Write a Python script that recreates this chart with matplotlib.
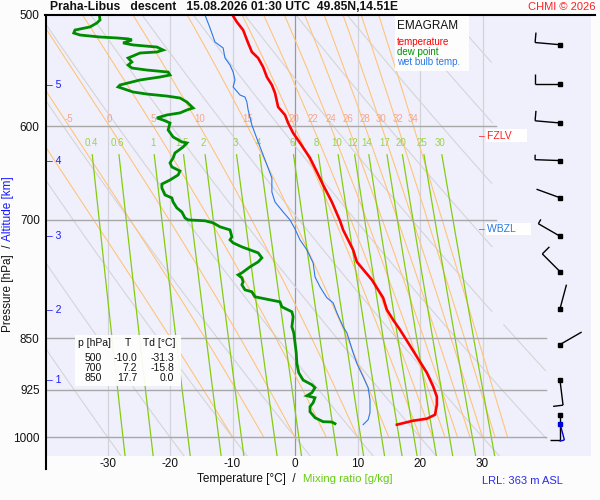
import numpy as np
import matplotlib
matplotlib.use("Agg")
import matplotlib.pyplot as plt
from matplotlib.patches import Rectangle
from matplotlib.lines import Line2D
import matplotlib.transforms as mtransforms

plt.rcParams['font.family'] = ['Liberation Sans', 'DejaVu Sans']

# ---------------- data ----------------
temp_p = [500, 505.8, 512.5, 523.5, 531.3, 536.6, 544.6, 553.6, 560.9, 568.3, 581.5, 589.2, 597,
          606.9, 616.9, 632.3, 647, 661, 679.7, 701, 711.6, 735.3, 750, 772.4, 795.5, 811.4, 824.8,
          838.4, 856.4, 876.4, 899.7, 920, 935.9, 948.2, 963.9, 970.2, 973.4, 979.8]
temp_t = [-10.0, -9.3, -8.3, -7.5, -6.9, -5.9, -5.1, -4.5, -3.7, -3.2, -2.7, -1.6, -1.1,
          -0.3, 0.8, 2.4, 3.5, 4.5, 5.9, 7.2, 7.7, 9.3, 9.9, 12.3, 14.1, 14.7, 15.7,
          16.8, 18.1, 19.5, 21.1, 22.1, 22.7, 22.7, 22.4, 21.1, 18.9, 16.3]

dew_p = [500, 504.1, 506.6, 509.9, 512.5, 515, 516.7, 518.4, 519.2, 520, 520.9, 523.5, 525.2, 527,
         529.6, 531.3, 532.2, 536.6, 540.1, 542.8, 545.5, 547.3, 549.1, 551.8, 553.6, 556.3, 560.9,
         562.7, 567.4, 569.3, 571.2, 573, 576.8, 582.5, 584.4, 587.2, 589.2, 592.1, 594.1, 597,
         603.9, 610.9, 615.9, 616.9, 621, 627.1, 632.3, 637.5, 641.7, 646, 650.2, 655.6, 660,
         664.3, 671.9, 675.2, 679.7, 686.4, 690.9, 697.7, 700, 701, 703.4, 708, 711.6, 719.8,
         723.3, 726.9, 731.7, 735.3, 738.9, 745, 750, 756.1, 763.6, 766.1, 769.9, 774.9, 778.7,
         785.2, 787.7, 794.2, 798.2, 800.8, 807.4, 814, 820.7, 834.3, 842.6, 856.4, 870.6, 886.2,
         899.7, 910.6, 917.6, 922.1, 929.7, 934.3, 937.4, 945.1, 951.3, 959.2, 968.6, 975, 975.5,
         978.2]
dew_t = [-31.3, -31.2, -31.7, -32.8, -35.2, -35.4, -34.4, -31.2, -28.5, -26.7, -26.1, -27.5, -25.9, -22.1,
         -21.1, -22.1, -24.8, -26.7, -26.1, -26.7, -26.1, -23.7, -20.3, -20.0, -21.6, -24.8, -28.0,
         -28.3, -25.9, -23.7, -20.5, -18.4, -17.3, -16.3, -17.3, -18.4, -20.5, -22.1, -21.1, -20.0,
         -20.3, -19.5, -18.1, -17.3, -17.9, -19.2, -19.5, -20.0, -19.7, -18.4, -18.7, -20.0, -21.3,
         -21.3, -20.8, -19.7, -19.5, -18.9, -18.1, -17.6, -17.1, -14.4, -13.1, -12.0, -10.4, -10.1,
         -10.4, -9.9, -8.5, -7.2, -5.9, -5.3, -5.9, -7.2, -8.5, -9.1, -8.5, -8.3, -8.5,
         -8.0, -6.9, -6.4, -4.0, -2.4, -2.1, -0.5, -0.3, -0.5, -0.2, 0.0, 0.2, 0.3,
         0.6, 1.3, 2.7, 3.2, 2.7, 1.9, 3.2, 2.9, 2.4, 2.4, 3.2, 4.5, 5.9,
         6.4]

wb_p = [500, 510.7, 522.7, 527.8, 536.6, 542.8, 549.1, 556.3, 562.7, 570.2, 572.1, 576.8, 584.4, 599,
        615.9, 629.2, 642.8, 653.4, 668.6, 679.7, 690.9, 700, 710.4, 723.3, 735.3, 751.2, 768.6,
        781.3, 795.5, 802.1, 815.4, 834.3, 842.6, 856.4, 870.6, 886.2, 905.6, 922.1, 940.5, 960.7,
        971.8, 979.8]
wb_t = [-14.4, -13.6, -12.8, -11.5, -11.2, -10.4, -9.9, -9.6, -9.9, -8.8, -8.0, -7.7, -7.5, -6.9,
        -5.9, -5.1, -4.3, -3.7, -3.7, -3.2, -1.9, -0.8, 0.0, 0.8, 1.9, 2.9, 3.2,
        4.0, 5.1, 6.1, 6.7, 7.7, 8.3, 8.8, 9.3, 9.9, 10.9, 11.7, 12.0, 12.0,
        11.7, 10.9]

# wind (pressure levels of 0.5 km steps), direction [deg], speed [kt]
wind_p = [525, 560, 597, 635, 675, 719, 762, 810, 859, 911, 964]
wind_dir = [275, 270, 275, 272, 290, 300, 315, 15, 60, 173, 180]
wind_spd = [10, 10, 10, 5, 3, 5, 10, 3, 3, 10, 10]
sfc_p, sfc_dir, sfc_spd = 978, 165, 5

alt_km = [1, 2, 3, 4, 5]
alt_p = [910.6, 811.4, 718.6, 635.4, 560.9]

p_ticks = [500, 600, 700, 850, 925, 1000]
t_ticks = [-30, -20, -10, 0, 10, 20, 30]
theta_dry = list(range(-30, 100, 10))
theta_w = [-10, -5, 0, 5, 10, 15, 20, 22, 24, 26, 28, 30, 32, 34]
theta_w_labels = [-5, 0, 5, 10, 15, 20, 22, 24, 26, 28, 30, 32, 34]
mix_ratios = [0.4, 0.6, 1, 1.5, 2, 3, 4, 6, 8, 10, 12, 14, 17, 20, 25, 30]

tab_p = ["500", "700", "850"]
tab_t = ["-10.0", "7.2", "17.7"]
tab_td = ["-31.3", "-15.8", "0.0"]

# ---------------- figure ----------------
W, H = 600, 500
fig = plt.figure(figsize=(6, 5), dpi=100, facecolor='#fcfcfc')
AX_L, AX_R, AX_T, AX_B = 46, 591, 15, 456
ax = fig.add_axes([AX_L / W, 1 - AX_B / H, (AX_R - AX_L) / W, (AX_B - AX_T) / H])
ax.set_facecolor('#f0f0fc')
T0X, PXC = 295, 6.25
xmin, xmax = (AX_L - T0X) / PXC, (AX_R - T0X) / PXC
pbot = 1031.5
ax.set_yscale('log')
ax.set_xlim(xmin, xmax)
ax.set_ylim(pbot, 500)
for s in ax.spines.values():
    s.set_visible(False)

ax.set_yticks(p_ticks)
ax.set_yticklabels([str(p) for p in p_ticks])
ax.yaxis.set_minor_locator(matplotlib.ticker.NullLocator())
ax.set_xticks(t_ticks)
ax.set_xticklabels([str(t) for t in t_ticks])
ax.tick_params(axis='y', length=0, pad=4.5, labelsize=8.5, colors='#111111')
ax.tick_params(axis='x', length=0, pad=1.5, labelsize=8.5, colors='#111111')


def fx(x):
    return x / W


def fy(y):
    return 1 - y / H


# isotherms
for t in t_ticks:
    ax.plot([t, t], [500, pbot], color='#999999' if t == 0 else '#d2d2d8', lw=0.9, zorder=1)

# dry adiabats
pp = np.geomspace(500, pbot, 300)
for th in theta_dry:
    T = (th + 273.15) * (pp / 1000.0) ** 0.2857 - 273.15
    T = np.where(((pp < 830) & (T > 31.6)) | (T > 40.2), np.nan, T)
    ax.plot(T, pp, color='#d4d4d8', lw=0.8, zorder=1.2)


def es(tc):
    return 6.112 * np.exp(17.67 * tc / (tc + 243.5))


def moist_line(tw, ps):
    Rd, cp, L, eps = 287.04, 1005.7, 2.501e6, 0.622

    def f(p, T):
        e = es(T - 273.15)
        rs = eps * e / (p - e)
        return (Rd * T + L * rs) / (p * (cp + L * L * rs * eps / (Rd * T * T)))
    T = tw + 273.15
    out = [T]
    for i in range(1, len(ps)):
        p0, p1 = ps[i - 1], ps[i]
        h = p1 - p0
        k1 = f(p0, T)
        k2 = f(p0 + h / 2, T + h * k1 / 2)
        k3 = f(p0 + h / 2, T + h * k2 / 2)
        k4 = f(p1, T + h * k3)
        T = T + h * (k1 + 2 * k2 + 2 * k3 + k4) / 6
        out.append(T)
    return np.array(out) - 273.15


pm = np.linspace(1000, 500, 251)
for tw in theta_w:
    T = moist_line(tw, pm)
    T = np.where(T > 40.2, np.nan, T)
    ax.plot(T, pm, color='#ffc47a', lw=0.8, zorder=1.4)
    if tw in theta_w_labels:
        t600 = np.interp(600, pm[::-1], T[::-1])
        ax.annotate(str(tw), (t600, 600), xytext=(0, 1.5), textcoords='offset points',
                    ha='center', va='bottom', fontsize=7, color='#f7a48c', zorder=3)


def mix_T(w, p):
    e = w * p / (622.0 + w)
    a = np.log(e / 6.112)
    return 243.5 * a / (17.67 - a)


pw = np.geomspace(629, pbot, 100)
for w in mix_ratios:
    ax.plot(mix_T(w, pw), pw, color='#84cc10', lw=0.9, zorder=1.6)
    ax.text(mix_T(w, 617), 617, '%g' % w, ha='center', va='center', fontsize=7,
            color='#9ad24a', zorder=3)

# isobars
for p in p_ticks[1:]:
    xe = 32.2 if p < 800 else 40.2
    ax.plot([xmin, xe], [p, p], color='#a8a8a8', lw=1.0, zorder=2)

# profiles
ax.plot(wb_t, wb_p, color='#2a78e4', lw=0.8, zorder=5)
ax.plot(dew_t, dew_p, color='#008c00', lw=2.0, zorder=6, solid_joinstyle='miter')
ax.plot(temp_t, temp_p, color='#ff0000', lw=1.9, zorder=6, solid_joinstyle='miter')


def zero_cross(ts, ps):
    for i in range(1, len(ts)):
        if ts[i - 1] < 0 <= ts[i]:
            return ps[i - 1] + (ps[i] - ps[i - 1]) * (0 - ts[i - 1]) / (ts[i] - ts[i - 1])
    return None


blend = mtransforms.blended_transform_factory(fig.transFigure, ax.transData)
p_fz = zero_cross(temp_t, temp_p)
p_wb = zero_cross(wb_t, wb_p)
for pz, lab, col in [(p_fz, 'FZLV', '#ff2020'), (p_wb, 'WBZL', '#2a78e4')]:
    ax.text(fx(479), pz, '–', transform=blend, ha='left', va='center', fontsize=7.5, color=col, zorder=7)
    ax.text(fx(487), pz, lab + '     ', transform=blend, ha='left', va='center', fontsize=7.5,
            color=col, zorder=7, bbox=dict(boxstyle='square,pad=0.12', fc='white', ec='none'))

# altitude markers
for k, p in zip(alt_km, alt_p):
    ax.text(fx(47), p, '– %d' % k, transform=blend, ha='left', va='center', fontsize=7.5,
            color='#1a1aff', zorder=7)

# wind barbs
T_station = (560 - T0X) / PXC
inv = ax.transData.inverted()


def barb(p, d, s, color, L=25):
    st = ax.transData.transform((T_station, p))
    u = np.array([np.sin(np.radians(d)), np.cos(np.radians(d))])
    end = st + L * u
    segs = [(st, end)]
    right = np.array([u[1], -u[0]])
    pos = end.copy()
    for _ in range(int(s // 10)):
        segs.append((pos, pos + 10 * right))
        pos = pos - 4 * u
    if (s % 10) >= 5:
        segs.append((pos, pos + 5 * right))
    for a, b in segs:
        pts = inv.transform([a, b])
        ax.plot(pts[:, 0], pts[:, 1], color=color, lw=1.0, zorder=8, clip_on=False,
                solid_capstyle='butt')
    ax.plot([T_station], [p], marker='s', ms=2.6, color=color, zorder=9, clip_on=False)


for p, d, s in zip(wind_p, wind_dir, wind_spd):
    barb(p, d, s, 'black')
barb(sfc_p, sfc_dir, sfc_spd, '#0000dd', L=17)

# frame lines
fig.add_artist(Line2D([fx(45), fx(595)], [fy(15), fy(15)], color='black', lw=1.5))
fig.add_artist(Line2D([fx(46), fx(46)], [fy(15), fy(469)], color='black', lw=1.5))

# legend box
fig.add_artist(Rectangle((fx(395), fy(71)), fx(74), (71 - 16) / H, fc='white', ec='none', alpha=0.9,
                         zorder=8))
fig.text(fx(396.5), fy(26), 'EMAGRAM', fontsize=8.5, color='#111111', va='center', zorder=9)
fig.text(fx(397), fy(42), 'temperature', fontsize=7, color='#ff0000', va='center', zorder=9)
fig.text(fx(397), fy(52), 'dew point', fontsize=7, color='#009000', va='center', zorder=9)
fig.text(fx(397), fy(62), 'wet bulb temp.', fontsize=7, color='#2a78e4', va='center', zorder=9)

# table box
fig.add_artist(Rectangle((fx(75), fy(386)), fx(106), 51 / H, fc='white', ec='none', alpha=0.92, zorder=8))
fig.text(fx(78), fy(343), 'p [hPa]', fontsize=7.5, color='#111111', va='center', zorder=9)
fig.text(fx(128), fy(343), 'T', fontsize=7.5, color='#111111', va='center', ha='center', zorder=9)
fig.text(fx(143), fy(343), 'Td [°C]', fontsize=7.5, color='#111111', va='center', zorder=9)
for i, (a, b, c) in enumerate(zip(tab_p, tab_t, tab_td)):
    yy = 358 + 10 * i
    fig.text(fx(102), fy(yy), a, fontsize=7.5, color='#111111', va='center', ha='right', zorder=9)
    fig.text(fx(137), fy(yy), b, fontsize=7.5, color='#111111', va='center', ha='right', zorder=9)
    fig.text(fx(174), fy(yy), c, fontsize=7.5, color='#111111', va='center', ha='right', zorder=9)

# titles & labels
fig.text(fx(50), fy(7.5), 'Praha-Libus   descent   15.08.2026 01:30 UTC  49.85N,14.51E',
         fontsize=8.7, weight='bold', color='#111111', va='center')
fig.text(fx(596), fy(7.5), 'CHMI © 2026', fontsize=8, color='#ff2020', va='center', ha='right')
fig.text(fx(197), fy(479), 'Temperature [°C]  /', fontsize=8.5, color='#111111', va='center')
fig.text(fx(303), fy(479), 'Mixing ratio [g/kg]', fontsize=8.2, color='#66cc11', va='center')
fig.text(fx(482), fy(481.5), 'LRL: 363 m ASL', fontsize=8, color='#2a2aee', va='center')
fig.text(fx(8), fy(245), 'Pressure [hPa]  /', fontsize=8.5, color='#111111', rotation=90,
         ha='center', va='top')
fig.text(fx(8), fy(241), 'Altitude [km]', fontsize=8.5, color='#1a1aff', rotation=90,
         ha='center', va='bottom')

fig.savefig('out.png', dpi=100, facecolor=fig.get_facecolor())
